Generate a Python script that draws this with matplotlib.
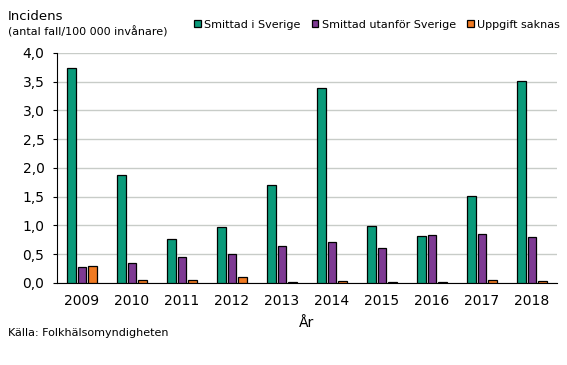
import numpy as np
from matplotlib import pyplot as plt

years = ['2009', '2010', '2011', '2012', '2013', '2014', '2015', '2016', '2017', '2018']
inom_sverige = [3.74, 1.88, 0.77, 0.97, 1.70, 3.39, 0.99, 0.82, 1.51, 3.52]
utom_sverige = [0.28, 0.35, 0.45, 0.50, 0.64, 0.71, 0.61, 0.84, 0.86, 0.80]
okand = [0.30, 0.05, 0.05, 0.11, 0.02, 0.03, 0.01, 0.01, 0.05, 0.04]
series_names = ['Smittad i Sverige', 'Smittad utanför Sverige', 'Uppgift saknas']
colors = ['#0a9a7a', '#7e3a93', '#f07a22']

fig = plt.figure(figsize=(5.67, 3.65), dpi=100)
ax = fig.add_axes([0.1005, 0.2247, 0.8815, 0.6301])

x = np.arange(len(years))
w = 0.17
for i, (vals, name, c) in enumerate(zip([inom_sverige, utom_sverige, okand], series_names, colors)):
    ax.bar(x + (i - 1) * 0.21, vals, w, color=c, edgecolor='black', lw=0.9, label=name, zorder=3)

ax.set_xlim(-0.5, len(years) - 0.5)
ax.set_ylim(0, 4.0)
yt = np.arange(0, 4.01, 0.5)
ax.set_yticks(yt)
ax.set_yticklabels([('%.1f' % v).replace('.', ',') for v in yt], fontsize=10)
ax.set_xticks(x)
ax.set_xticklabels(years, fontsize=10)
ax.tick_params(axis='x', length=0, pad=8)
ax.tick_params(axis='y', length=3, direction='out', pad=6)
ax.yaxis.grid(True, color='#c8ccc8', lw=1, zorder=0)
for s in ['top', 'right']:
    ax.spines[s].set_visible(False)
ax.spines['left'].set_color('black')
ax.spines['bottom'].set_color('black')

ax.set_xlabel('År', fontsize=10, labelpad=6)

fig.text(0.014, 0.955, 'Incidens', fontsize=9.5, va='center')
fig.text(0.014, 0.912, '(antal fall/100 000 invånare)', fontsize=8, va='center')
fig.text(0.014, 0.088, 'Källa: Folkhälsomyndigheten', fontsize=8, va='center')

fig.legend(loc='center right', bbox_to_anchor=(0.995, 0.932), ncol=3, frameon=False,
           fontsize=8, handlelength=0.6, handleheight=0.6, handletextpad=0.3,
           columnspacing=1.0, borderaxespad=0)

fig.savefig('out.png', dpi=100)
